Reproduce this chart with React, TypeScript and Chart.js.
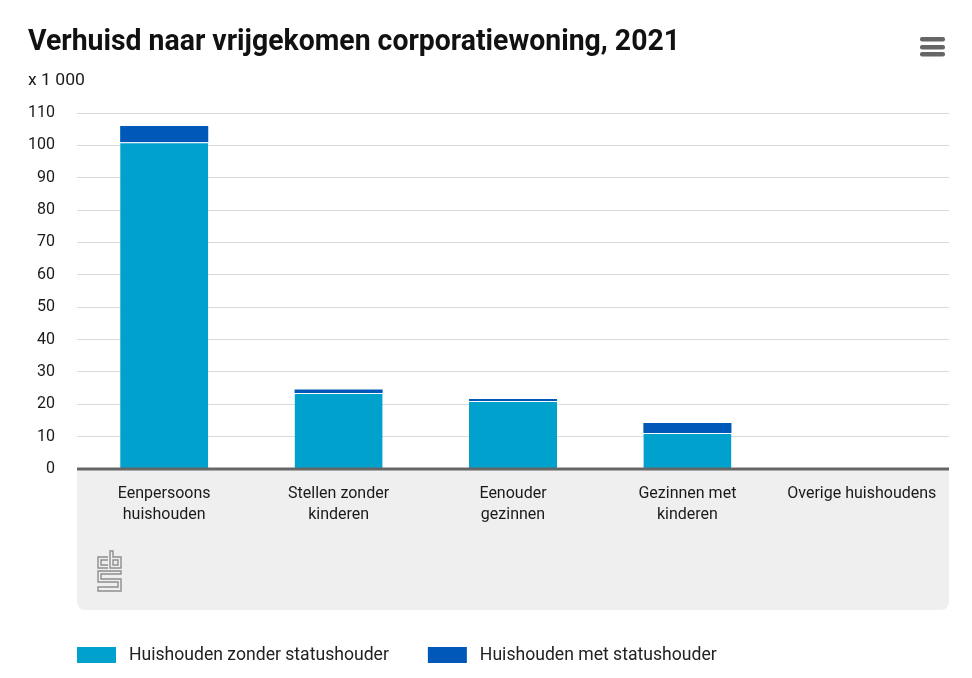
import React, { useEffect, useRef } from 'react';
import { Chart, registerables } from 'chart.js';

Chart.register(...registerables);

// ---- data ----
const categories: (string | string[])[] = [
  ['Eenpersoons', 'huishouden'],
  ['Stellen zonder', 'kinderen'],
  ['Eenouder', 'gezinnen'],
  ['Gezinnen met', 'kinderen'],
  'Overige huishoudens',
];
const zonderStatushouder = [101.0, 23.5, 21.0, 11.1, 0.4];
const metStatushouder = [5.0, 1.1, 0.6, 3.1, 0.0];
const seriesNames = ['Huishouden zonder statushouder', 'Huishouden met statushouder'];
const yMin = 0;
const yMax = 110;
const yStep = 10;
const chartTitle = 'Verhuisd naar vrijgekomen corporatiewoning, 2021';
const unitLabel = 'x 1 000';

// ---- styles ----
const colorZonder = '#00A1CD';
const colorMet = '#0058B8';
const textColor = '#1a1a1a';
const FONT = "Roboto, 'Open Sans', 'DejaVu Sans', sans-serif";

function fitText(ctx: CanvasRenderingContext2D, text: string, x: number, y: number, width: number) {
  const w = ctx.measureText(text).width;
  ctx.save();
  ctx.translate(x, y);
  ctx.scale(width / w, 1);
  ctx.fillText(text, 0, 0);
  ctx.restore();
}

const decor = {
  id: 'decor',
  beforeDraw(chart: any) {
    const { ctx, chartArea } = chart;
    const xScale = chart.scales.x;
    ctx.save();
    ctx.fillStyle = '#ffffff';
    ctx.fillRect(0, 0, chart.width, chart.height);

    // grey panel under x axis
    const left = chartArea.left;
    const right = chartArea.right;
    const top = chartArea.bottom;
    const bottom = xScale.bottom;
    const r = 9;
    ctx.fillStyle = '#efefef';
    ctx.beginPath();
    ctx.moveTo(left, top);
    ctx.lineTo(right, top);
    ctx.lineTo(right, bottom - r);
    ctx.quadraticCurveTo(right, bottom, right - r, bottom);
    ctx.lineTo(left + r, bottom);
    ctx.quadraticCurveTo(left, bottom, left, bottom - r);
    ctx.closePath();
    ctx.fill();

    // CBS logo (approximate)
    const lx = left + 21;
    const ly = bottom - 59;
    ctx.strokeStyle = '#8e8e8e';
    ctx.lineWidth = 1.4;
    ctx.lineJoin = 'miter';
    ctx.beginPath();
    // c
    ctx.moveTo(lx + 10, ly + 6); ctx.lineTo(lx, ly + 6); ctx.lineTo(lx, ly + 17); ctx.lineTo(lx + 10, ly + 17);
    ctx.moveTo(lx + 10, ly + 9); ctx.lineTo(lx + 3, ly + 9); ctx.lineTo(lx + 3, ly + 14); ctx.lineTo(lx + 10, ly + 14);
    // b
    ctx.moveTo(lx + 12, ly); ctx.lineTo(lx + 12, ly + 17); ctx.lineTo(lx + 23, ly + 17); ctx.lineTo(lx + 23, ly + 6);
    ctx.lineTo(lx + 15, ly + 6); ctx.lineTo(lx + 15, ly); ctx.closePath();
    ctx.rect(lx + 15, ly + 9, 5, 5);
    // s
    ctx.moveTo(lx + 23, ly + 20); ctx.lineTo(lx, ly + 20); ctx.lineTo(lx, ly + 31); ctx.lineTo(lx + 20, ly + 31);
    ctx.lineTo(lx + 20, ly + 36); ctx.lineTo(lx, ly + 36); ctx.lineTo(lx, ly + 40); ctx.lineTo(lx + 23, ly + 40);
    ctx.lineTo(lx + 23, ly + 28); ctx.lineTo(lx + 3, ly + 28); ctx.lineTo(lx + 3, ly + 23); ctx.lineTo(lx + 23, ly + 23); ctx.closePath();
    ctx.stroke();

    // title
    ctx.fillStyle = '#111111';
    ctx.textBaseline = 'alphabetic';
    ctx.textAlign = 'left';
    ctx.font = `bold 29px ${FONT}`;
    fitText(ctx, chartTitle, 28, 50, 652);

    // unit label
    ctx.font = `16px ${FONT}`;
    ctx.fillStyle = textColor;
    fitText(ctx, unitLabel, 28, 85, 57);

    // hamburger menu
    ctx.fillStyle = '#666666';
    [37, 45, 52].forEach((yy) => {
      ctx.beginPath();
      (ctx as any).roundRect(920, yy, 25, 4.5, 2);
      ctx.fill();
    });

    // legend
    ctx.font = `17.6px ${FONT}`;
    ctx.textBaseline = 'middle';
    let x = left;
    const ly2 = bottom + 45;
    [colorZonder, colorMet].forEach((c, i) => {
      ctx.fillStyle = c;
      ctx.fillRect(x, ly2 - 8, 39, 16);
      ctx.fillStyle = '#222222';
      ctx.fillText(seriesNames[i], x + 52, ly2 + 1);
      x = x + 52 + ctx.measureText(seriesNames[i]).width + 39;
    });
    ctx.restore();
  },
  afterDatasetsDraw(chart: any) {
    const { ctx, chartArea } = chart;
    ctx.save();
    ctx.strokeStyle = '#666666';
    ctx.lineWidth = 3;
    ctx.beginPath();
    ctx.moveTo(chartArea.left, chartArea.bottom);
    ctx.lineTo(chartArea.right, chartArea.bottom);
    ctx.stroke();
    ctx.restore();
  },
};

export default function App() {
  const ref = useRef<HTMLCanvasElement | null>(null);

  useEffect(() => {
    document.body.style.margin = '0';
    if (!ref.current) return;
    const chart = new Chart(ref.current, {
      type: 'bar',
      data: {
        labels: categories as any,
        datasets: [
          {
            label: seriesNames[0],
            data: zonderStatushouder,
            backgroundColor: colorZonder,
            borderColor: '#ffffff',
            borderWidth: { top: 1, left: 0, right: 0, bottom: 0 },
            borderSkipped: false,
          },
          {
            label: seriesNames[1],
            data: metStatushouder,
            backgroundColor: colorMet,
            borderWidth: 0,
          },
        ],
      },
      options: {
        responsive: false,
        animation: false,
        layout: { padding: { top: 113, right: 23, bottom: 68, left: 0 } },
        datasets: { bar: { categoryPercentage: 1, barPercentage: 0.505 } },
        plugins: {
          legend: { display: false },
          title: { display: false },
          tooltip: { enabled: false },
        },
        scales: {
          x: {
            stacked: true,
            grid: { display: false, drawTicks: false },
            border: { display: false },
            ticks: {
              color: textColor,
              font: { family: FONT, size: 16, lineHeight: 1.3 },
              padding: 15,
              maxRotation: 0,
              autoSkip: false,
            },
            afterFit(scale: any) {
              scale.height = 141;
            },
          },
          y: {
            stacked: true,
            min: yMin,
            max: yMax,
            grid: { color: '#d9d9d9', lineWidth: 1, drawTicks: false },
            border: { display: false },
            ticks: {
              stepSize: yStep,
              color: textColor,
              font: { family: FONT, size: 16 },
              padding: 22,
            },
            afterFit(scale: any) {
              scale.width = 77;
            },
          },
        },
      },
      plugins: [decor],
    });
    return () => chart.destroy();
  }, []);

  return (
    <div style={{ position: 'absolute', left: 0, top: 0, width: 972, height: 678 }}>
      <canvas ref={ref} width={972} height={678} style={{ width: 972, height: 678, display: 'block' }} />
    </div>
  );
}
